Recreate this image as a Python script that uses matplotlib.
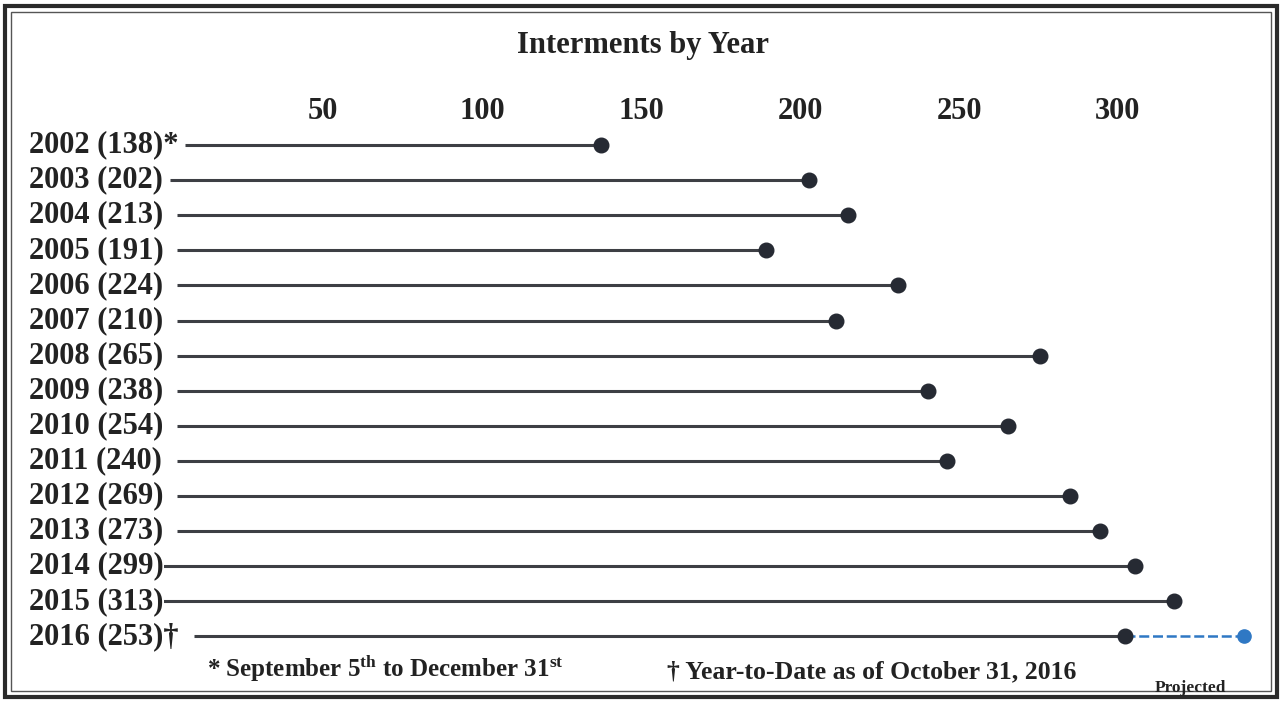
import matplotlib
matplotlib.use('Agg')

import matplotlib.pyplot as plt
from matplotlib.patches import Rectangle

# --- Data ---
years = ['2002', '2003', '2004', '2005', '2006', '2007', '2008', '2009',
         '2010', '2011', '2012', '2013', '2014', '2015', '2016']
counts = [138, 202, 213, 191, 224, 210, 265, 238, 254, 240, 269, 273, 299, 313, 253]
marks = ['*', '', '', '', '', '', '', '', '', '', '', '', '', '', '\u2020']
# where the dots sit in the picture
dot_values = [137.4, 202.8, 215.1, 189.3, 230.8, 211.3, 275.5, 240.3,
              265.4, 246.2, 284.9, 294.3, 305.3, 317.6, 302.2]
projected_2016 = 339.6
ticks = [50, 100, 150, 200, 250, 300]

W, H = 1282, 701
plt.rcParams['font.family'] = 'Liberation Serif'
plt.rcParams['font.weight'] = 'bold'
plt.rcParams['mathtext.fontset'] = 'custom'
plt.rcParams['mathtext.rm'] = 'Liberation Serif:bold'
plt.rcParams['mathtext.it'] = 'Liberation Serif:bold'
plt.rcParams['mathtext.bf'] = 'Liberation Serif:bold'

fig = plt.figure(figsize=(W / 100, H / 100), dpi=100)
fig.patch.set_facecolor('white')

# axes: x=0 at pixel 164, 3.18 px per unit; rows 35.1 px apart from y=145
ax_left, ax_right = 164, 1277
ax_top, ax_bot = 125, 662
ax = fig.add_axes([ax_left / W, 1 - ax_bot / H, (ax_right - ax_left) / W, (ax_bot - ax_top) / H])
ax.set_xlim(0, (ax_right - ax_left) / 3.18)
row_h = 35.1
ax.set_ylim((ax_bot - 145) / row_h, (ax_top - 145) / row_h)

line_col = '#3d3f44'
dot_col = '#262a33'
blue = '#2f78c4'
txt_col = '#222222'

# line start offsets (just after each label)
starts = [6.5, 1.8, 4.2, 4.2, 4.2, 4.2, 4.2, 4.2, 4.2, 4.2, 4.2, 4.2, -0.3, -0.3, 9.5]

for i, (y, c, m, v) in enumerate(zip(years, counts, marks, dot_values)):
    ax.plot([starts[i], v], [i, i], color=line_col, lw=2.2, solid_capstyle='butt', zorder=2)
    ax.plot(v, i, 'o', color=dot_col, ms=10.5, zorder=3)
    ax.text(-42.5, i, f'{y} ({c}){m}', ha='left', va='center', fontsize=22,
            fontweight='bold', color=txt_col, clip_on=False)

# projected extension for 2016
ax.plot([dot_values[-1], projected_2016], [14, 14], color=blue, lw=1.8,
        ls=(0, (4, 1.5)), zorder=2)
ax.plot(projected_2016, 14, 'o', color=blue, ms=9.5, zorder=3)

ax.xaxis.tick_top()
ax.set_xticks(ticks)
ax.set_xticklabels([str(t) for t in ticks], fontsize=22, fontweight='bold', color=txt_col)
ax.tick_params(axis='x', length=0, pad=-1)
ax.set_yticks([])
for s in ax.spines.values():
    s.set_visible(False)
ax.patch.set_visible(False)

fig.text(643 / W, 1 - 45 / H, 'Interments by Year', ha='center', va='center',
         fontsize=22, fontweight='bold', color=txt_col)
fig.text(385 / W, 1 - 668 / H, r'* September 5$^{\mathrm{th}}$ to December 31$^{\mathrm{st}}$',
         ha='center', va='center', fontsize=18, fontweight='bold', color=txt_col)
fig.text(872 / W, 1 - 672 / H, '\u2020 Year-to-Date as of October 31, 2016',
         ha='center', va='center', fontsize=18.5, fontweight='bold', color=txt_col)
fig.text(1190 / W, 1 - 688 / H, 'Projected', ha='center', va='center',
         fontsize=12.5, fontweight='bold', color=txt_col)

# double border
fig.patches.append(Rectangle((5 / W, 1 - 697 / H), 1272 / W, 691 / H, transform=fig.transFigure,
                             fill=False, edgecolor='#2a2a2a', lw=3))
fig.patches.append(Rectangle((11 / W, 1 - 691 / H), 1260 / W, 679 / H, transform=fig.transFigure,
                             fill=False, edgecolor='#555555', lw=1))

fig.savefig('out.png', dpi=100, facecolor='white')
